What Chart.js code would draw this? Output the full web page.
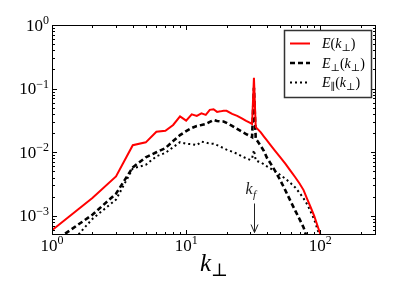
<!DOCTYPE html>
<html>
<head>
<meta charset="utf-8">
<script src="https://cdn.jsdelivr.net/npm/chart.js@4/dist/chart.umd.min.js"></script>
<style>
html,body{margin:0;padding:0;background:#fff;}
#c{display:block;}
</style>
</head>
<body>
<canvas id="c" width="395" height="296"></canvas>
<script>
// ---------- data ----------
const kValues = [1,2,3,4,5,6,7,8,9,10,11,12,13,14,15,16,17,18,19,20,
  22,24,26,28,30,31,32,33,34,36,38,40,43,46,50,55,60,65,70,75,80,85,90,95,100,105];

const eTotal = [5.93e-4,1.91e-3,4.16e-3,0.0129,0.0143,0.0210,0.0218,0.0268,0.0366,0.0314,
  0.0394,0.0373,0.0408,0.0387,0.0464,0.0473,0.0431,0.0439,0.0448,0.0448,
  0.0401,0.0373,0.0340,0.0310,0.0289,0.0278,0.148,0.0248,0.0233,0.0205,
  0.0176,0.0153,0.0126,0.0105,0.00842,0.00657,0.00508,0.00404,0.00322,0.00254,
  0.00181,0.00134,0.00100,7.11e-4,5.13e-4,3.6e-4];

const ePerp = [3.77e-4,1.04e-3,2.23e-3,5.78e-3,8.33e-3,0.0100,0.0116,0.0150,0.0186,0.0215,
  0.0240,0.0259,0.0268,0.0278,0.0299,0.0322,0.0310,0.0305,0.0304,0.0289,
  0.0259,0.0232,0.0210,0.0193,0.0179,0.0173,0.103,0.0161,0.0150,0.0125,
  0.0104,0.00818,0.00645,0.00508,0.00373,0.00249,0.00170,0.00121,8.87e-4,6.57e-4,
  4.31e-4,null,null,null,null,null];

const ePar = [1.73e-4,8.96e-4,1.80e-3,5.57e-3,6.33e-3,8.64e-3,9.75e-3,0.0120,0.0144,0.0136,
  0.0134,0.0129,0.0147,0.0142,0.0136,0.0136,0.0129,0.0122,0.0116,0.0110,
  0.0102,0.00947,0.00864,0.00803,0.00760,0.00803,0.0108,0.00746,0.00720,0.00694,
  0.00645,0.00600,0.00547,0.00499,0.00443,0.00383,0.00327,0.00279,0.00230,0.00188,
  0.00150,0.00115,8.80e-4,6.22e-4,4.48e-4,null];

const seriesLabels = ['E(k\u22A5)', 'E\u22A5(k\u22A5)', 'E\u2225(k\u22A5)'];
const xTickValues = [1, 10, 100];
const yTickValues = [1e-3, 1e-2, 1e-1, 1];
const xRange = [1, 260];
const yRange = [5e-4, 1];
const xAxisTitle = 'k\u22A5';
const forcingK = 32;
const forcingLabel = 'kf';

// ---------- styles ----------
const SERIF = '"Liberation Serif", "DejaVu Serif", serif';
const seriesStyles = [
  {color: '#ff0000', width: 2, dash: []},
  {color: '#000000', width: 2.6, dash: [5, 3]},
  {color: '#000000', width: 2, dash: [2, 3]}
];

function toPoints(arr) { return kValues.map((k, i) => ({x: k, y: arr[i]})); }

function logTicks(min, max) {
  const out = [];
  for (let e = Math.floor(Math.log10(min)); e <= Math.ceil(Math.log10(max)); e++) {
    for (let m = 1; m <= 9; m++) {
      const v = m * Math.pow(10, e);
      if (v > min * 1.0001 && v < max * 0.9999) out.push({v, major: m === 1});
    }
  }
  return out;
}

function drawPow(ctx, exp, ax, baseY, align) {
  const base = '10';
  const ex = exp < 0 ? '\u2212' + (-exp) : String(exp);
  const bf = '17px ' + SERIF, ef = '12px ' + SERIF;
  ctx.font = bf; const wb = ctx.measureText(base).width;
  ctx.font = ef; const we = ctx.measureText(ex).width;
  const x0 = align === 'center' ? ax - (wb + we) / 2 : ax - wb - we;
  ctx.textAlign = 'left'; ctx.textBaseline = 'alphabetic';
  ctx.font = bf; ctx.fillText(base, x0, baseY);
  ctx.font = ef; ctx.fillText(ex, x0 + wb, baseY - 6.5);
}

// draws a label with italic letters and subscripted ⊥ / ∥
function drawMath(ctx, text, x, baseY, size, subSize, subDrop) {
  let cx = x;
  for (const ch of text) {
    let font, dy = 0;
    if (ch === '\u22A5' || ch === '\u2225') { font = subSize + 'px ' + SERIF; dy = subDrop; }
    else if (/[A-Za-z]/.test(ch)) { font = 'italic ' + size + 'px ' + SERIF; }
    else { font = size + 'px ' + SERIF; }
    ctx.font = font;
    ctx.fillText(ch, cx, baseY + dy);
    cx += ctx.measureText(ch).width;
  }
  return cx - x;
}
function measureMath(ctx, text, size, subSize) {
  let w = 0;
  for (const ch of text) {
    if (ch === '\u22A5' || ch === '\u2225') ctx.font = subSize + 'px ' + SERIF;
    else if (/[A-Za-z]/.test(ch)) ctx.font = 'italic ' + size + 'px ' + SERIF;
    else ctx.font = size + 'px ' + SERIF;
    w += ctx.measureText(ch).width;
  }
  return w;
}

const overlay = {
  id: 'overlay',
  afterDatasetsDraw(chart) {
    const ctx = chart.ctx, a = chart.chartArea;
    const xs = chart.scales.x, ys = chart.scales.y;
    ctx.save();
    ctx.setLineDash([]);
    ctx.fillStyle = '#000';
    ctx.strokeStyle = '#000';
    ctx.lineWidth = 1;
    // frame
    ctx.strokeRect(a.left + 0.5, a.top + 0.5, a.right - a.left - 1, a.bottom - a.top - 1);
    // ticks (inward, all four sides)
    ctx.beginPath();
    for (const t of logTicks(xs.min, xs.max)) {
      const px = Math.round(xs.getPixelForValue(t.v)) + 0.5;
      const len = t.major ? 4 : 2;
      ctx.moveTo(px, a.bottom); ctx.lineTo(px, a.bottom - 1 - len);
      ctx.moveTo(px, a.top); ctx.lineTo(px, a.top + 1 + len);
    }
    for (const t of logTicks(ys.min, ys.max)) {
      const py = Math.round(ys.getPixelForValue(t.v)) + 0.5;
      const len = t.major ? 4 : 2;
      ctx.moveTo(a.left, py); ctx.lineTo(a.left + 1 + len, py);
      ctx.moveTo(a.right, py); ctx.lineTo(a.right - 1 - len, py);
    }
    ctx.stroke();
    // tick labels
    for (const v of xTickValues) {
      drawPow(ctx, Math.round(Math.log10(v)), xs.getPixelForValue(v), a.bottom + 15.5, 'center');
    }
    for (const v of yTickValues) {
      drawPow(ctx, Math.round(Math.log10(v)), a.left - 3, ys.getPixelForValue(v) + 5.5, 'right');
    }
    // x axis title
    ctx.textAlign = 'left'; ctx.textBaseline = 'alphabetic';
    const tw = measureMath(ctx, xAxisTitle, 25, 18);
    drawMath(ctx, xAxisTitle, (a.left + a.right) / 2 - tw / 2, a.bottom + 35.5, 25, 18, 5);

    // forcing annotation
    const fx = Math.round(xs.getPixelForValue(forcingK)) + 0.5;
    const tipY = a.bottom - 2.5, startY = tipY - 29;
    ctx.lineWidth = 1;
    ctx.strokeStyle = '#222';
    ctx.beginPath();
    ctx.moveTo(fx, startY); ctx.lineTo(fx, tipY);
    ctx.moveTo(fx - 3.5, tipY - 8); ctx.lineTo(fx, tipY); ctx.lineTo(fx + 3.5, tipY - 8);
    ctx.stroke();
    ctx.fillStyle = '#222';
    ctx.font = 'italic 16px ' + SERIF;
    const kw = ctx.measureText(forcingLabel[0]).width;
    ctx.fillText(forcingLabel[0], fx - 9, startY - 10);
    ctx.font = 'italic 11px ' + SERIF;
    ctx.fillText(forcingLabel.slice(1), fx - 9 + kw + 0.5, startY - 6);

    // legend
    const L = {x: 284, y: 30, w: 87, h: 67};
    ctx.fillStyle = '#fff';
    ctx.fillRect(L.x, L.y, L.w, L.h);
    ctx.strokeStyle = '#333';
    ctx.lineWidth = 1.5;
    ctx.strokeRect(L.x + 0.5, L.y + 0.5, L.w, L.h);
    const rows = [13.5, 33, 52.5];
    chart.data.datasets.forEach((ds, i) => {
      const st = seriesStyles[i];
      const ry = L.y + rows[i];
      ctx.strokeStyle = st.color;
      ctx.lineWidth = st.width;
      ctx.setLineDash(st.dash);
      ctx.beginPath();
      ctx.moveTo(L.x + 6, ry); ctx.lineTo(L.x + 26, ry);
      ctx.stroke();
      ctx.setLineDash([]);
      ctx.fillStyle = '#000';
      drawMath(ctx, ds.label, L.x + 38, ry + 4.5, 14, 10, 3);
    });
    ctx.restore();
  }
};

new Chart(document.getElementById('c'), {
  type: 'line',
  data: {
    datasets: [eTotal, ePerp, ePar].map((arr, i) => ({
      label: seriesLabels[i],
      data: toPoints(arr),
      borderColor: seriesStyles[i].color,
      borderWidth: seriesStyles[i].width,
      borderDash: seriesStyles[i].dash,
      borderCapStyle: 'butt',
      borderJoinStyle: 'miter',
      pointRadius: 0,
      tension: 0,
      fill: false,
      spanGaps: false
    }))
  },
  options: {
    responsive: false,
    animation: false,
    devicePixelRatio: 1,
    layout: {padding: {left: 52, top: 25, right: 19, bottom: 61}},
    plugins: {legend: {display: false}, tooltip: {enabled: false}, title: {display: false}},
    scales: {
      x: {type: 'logarithmic', min: xRange[0], max: xRange[1], display: false},
      y: {type: 'logarithmic', min: yRange[0], max: yRange[1], display: false}
    }
  },
  plugins: [overlay]
});
</script>
</body>
</html>
